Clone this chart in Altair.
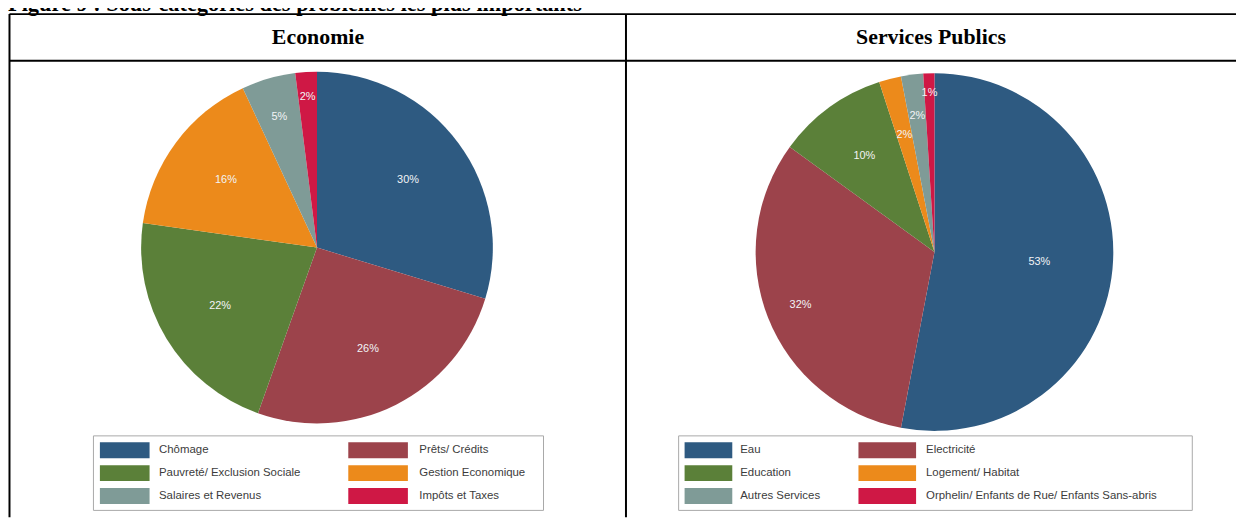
import altair as alt
import pandas as pd

# ---- data -------------------------------------------------------------
title_text = "Figure 9 : Sous-catégories des problèmes les plus importants"
headers = ["Economie", "Services Publics"]

eco_cats = ["Chômage", "Prêts/ Crédits", "Pauvreté/ Exclusion Sociale",
            "Gestion Economique", "Salaires et Revenus", "Impôts et Taxes"]
eco_vals = [30, 26, 22, 16, 5, 2]

svc_cats = ["Eau", "Electricité", "Education", "Logement/ Habitat",
            "Autres Services", "Orphelin/ Enfants de Rue/ Enfants Sans-abris"]
svc_vals = [53, 32, 10, 2, 2, 1]

palette = ["#2e5a81", "#9c434b", "#5b8039", "#ec8a1b", "#7f9b97", "#cf1845"]


def frame(cats, vals):
    return pd.DataFrame({
        "cat": cats,
        "val": vals,
        "i": list(range(len(cats))),
        "label": [f"{v}%" for v in vals],
        "row": [k // 2 for k in range(len(cats))],
        "col": [k % 2 for k in range(len(cats))],
    })


eco = frame(eco_cats, eco_vals)
svc = frame(svc_cats, svc_vals)

LEG_Y = alt.Y("row:Q", scale=alt.Scale(domain=[0, 2], range=[443.5, 489.5], nice=False, zero=False), axis=None)


def pie_layers(df, cats, cx, cy, r, radius_expr):
    color = alt.Color("cat:N", scale=alt.Scale(domain=cats, range=palette), legend=None)
    arcs = alt.Chart(df).mark_arc(radius=r, stroke=None).encode(
        theta=alt.Theta("val:Q", stack=True),
        color=color,
        order=alt.Order("i:Q"),
        x=alt.value(cx), y=alt.value(cy),
    )
    labels = alt.Chart(df).transform_joinaggregate(
        total="sum(val)"
    ).transform_window(
        cum="sum(val)", sort=[alt.SortField("i")], frame=[None, 0]
    ).transform_calculate(
        mid="(datum.cum - datum.val / 2) / datum.total * 2 * PI",
        lr=radius_expr,
    ).mark_text(
        font="Liberation Sans", fontSize=11, color="#f2f4f6",
        align="center", baseline="middle",
    ).encode(
        theta=alt.Theta("mid:Q", scale=None, stack=False),
        radius=alt.Radius("lr:Q", scale=None, stack=False),
        text="label:N",
        x=alt.value(cx), y=alt.value(cy),
    )
    return [arcs, labels]


def legend_layers(df, cats, box, cols):
    color = alt.Color("cat:N", scale=alt.Scale(domain=cats, range=palette), legend=None)
    x0, x1, y0, y1 = box
    layers = [
        alt.Chart(pd.DataFrame({"k": [0]})).mark_rect(
            fill="white", stroke="#a8a8a8", strokeWidth=1
        ).encode(x=alt.value(x0), x2=alt.value(x1), y=alt.value(y0), y2=alt.value(y1))
    ]
    for c, (sx, sw, tx) in enumerate(cols):
        hy = 16.0 / sw
        path = f"M-1,-{hy:.4f}L1,-{hy:.4f}L1,{hy:.4f}L-1,{hy:.4f}Z"
        layers.append(
            alt.Chart(df).transform_filter(alt.datum.col == c).mark_point(
                shape=path, size=sw * sw, filled=True, opacity=1, strokeWidth=0
            ).encode(x=alt.value(sx), y=LEG_Y, color=color)
        )
        layers.append(
            alt.Chart(df).transform_filter(alt.datum.col == c).mark_text(
                align="left", baseline="middle", font="Liberation Sans",
                fontSize=11.5, color="#3c3c3c"
            ).encode(x=alt.value(tx), y=LEG_Y, text="cat:N")
        )
    return layers


one = pd.DataFrame({"k": [0]})


def rule(x, x2, y, y2):
    return alt.Chart(one).mark_rule(color="black", strokeWidth=2).encode(
        x=alt.value(x), x2=alt.value(x2), y=alt.value(y), y2=alt.value(y2)
    )


def text_at(s, x, y, **kw):
    return alt.Chart(one).mark_text(**kw).encode(
        x=alt.value(x), y=alt.value(y), text=alt.value(s)
    )


serif = dict(font="Liberation Serif", fontWeight="bold", color="black")

layers = []
# table frame
layers += [
    rule(1.5, 1236, 4.5, 4.5),
    rule(1.5, 1236, 51.5, 51.5),
    rule(1.5, 1.5, 4.5, 511),
    rule(622, 622, 4.5, 511),
]
layers.append(text_at(title_text, 0, 1, align="left", baseline="alphabetic", fontSize=22.5, **serif))
layers.append(text_at(headers[0], 312, 28, align="center", baseline="middle", fontSize=22, **serif))
layers.append(text_at(headers[1], 929, 28, align="center", baseline="middle", fontSize=22, **serif))

layers += pie_layers(eco, eco_cats, 311, 239.5, 177,
                     "datum.i == 5 ? 152 : (datum.i == 4 ? 137 : 114)")
layers += pie_layers(svc, svc_cats, 932.5, 244, 180,
                     "datum.i == 5 ? 160 : (datum.i == 4 ? 138 : (datum.i == 3 ? 122 : "
                     "(datum.i == 0 ? 106 : (datum.i == 1 ? 145 : 120))))")

layers += legend_layers(eco, eco_cats, (86, 539, 429, 504),
                        [(117.5, 50, 152), (372.5, 60, 414)])
layers += legend_layers(svc, svc_cats, (675, 1192, 429, 504),
                        [(705, 48, 737), (885, 58, 924)])

chart = alt.layer(*layers).resolve_scale(
    theta="independent", color="independent"
).properties(
    width=1236, height=511, padding=0, autosize="none", background="white"
).configure_view(stroke=None)

chart.save("out.html", embed_options={"renderer": "svg", "actions": False})
